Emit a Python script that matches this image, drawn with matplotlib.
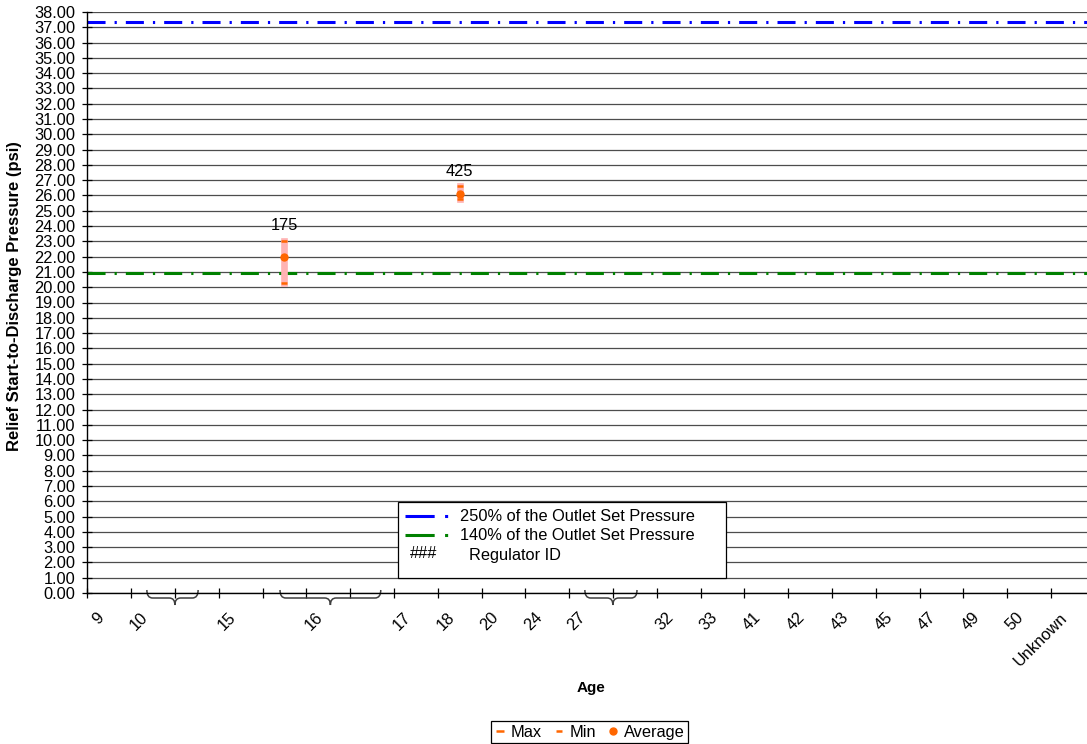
import matplotlib
matplotlib.use("Agg")
import matplotlib.pyplot as plt
import matplotlib.transforms as mtransforms
from matplotlib.lines import Line2D
from matplotlib.path import Path
from matplotlib.patches import PathPatch, Rectangle
from matplotlib.legend_handler import HandlerBase
from matplotlib.text import Text
import numpy as np

plt.rcParams['font.family'] = ['Liberation Sans', 'DejaVu Sans']
plt.rcParams['lines.scale_dashes'] = False

# category axis (one slot per age)
ages = ["9", "10", "", "15", "", "16", "", "17", "18", "20", "24", "27", "",
        "32", "33", "41", "42", "43", "45", "47", "49", "50", "Unknown"]

# regulators tested
reg_ids = ["175", "425"]
reg_slot = [4, 8]
max_psi = [23.05, 26.60]
min_psi = [20.25, 25.75]
avg_psi = [22.00, 26.07]

pct_250 = 37.33
pct_140 = 20.90

# braces under the axis: (start, end, point) in category slots
braces = [(1.36, 2.53, 2.0), (4.40, 6.70, 5.55), (11.36, 12.55, 12.0)]

FS = 11.8
W, H = 1087, 744
fig = plt.figure(figsize=(W / 100, H / 100), dpi=100)
x0, x1, ytop, ybot = 87.3, 1094.7, 12, 593
ax = fig.add_axes([x0 / W, (H - ybot) / H, (x1 - x0) / W, (ybot - ytop) / H])

n = len(ages)
ax.set_xlim(0, n)
ax.set_ylim(0, 38)

# grid
ax.set_yticks(np.arange(0, 39, 1))
ax.set_yticklabels(["%.2f" % v for v in np.arange(0, 39, 1)], fontsize=FS)
ax.yaxis.grid(True, color='#4d4d4d', lw=0.9)
ax.set_axisbelow(True)

for s in ['top', 'right']:
    ax.spines[s].set_visible(False)
ax.spines['left'].set_linewidth(1.0)
ax.spines['bottom'].set_linewidth(1.0)

ax.set_xticks(np.arange(0, n + 1))
ax.set_xticklabels([])
ax.set_xticks(np.arange(n) + 0.5, minor=True)
ax.set_xticklabels(ages, minor=True, rotation=45, ha='right', va='top',
                   rotation_mode='anchor', fontsize=FS)
ax.tick_params(axis='x', which='major', direction='inout', length=7.2, width=0.9)
ax.tick_params(axis='x', which='minor', length=0, pad=12)
ax.tick_params(axis='y', direction='inout', length=7.2, width=0.9, pad=5)
shift = mtransforms.ScaledTranslation(-13 / 100, 0, fig.dpi_scale_trans)
for lab in ax.get_xticklabels(minor=True):
    lab.set_transform(lab.get_transform() + shift)

# reference lines
dash = (0, (13, 6.5, 1.6, 6.5))
ax.axhline(pct_250, color='#0000ff', lw=2.2, ls=dash, zorder=2)
ax.axhline(pct_140, color='#008000', lw=2.2, ls=dash, zorder=2)

# hi-low bars
xs = np.array(reg_slot) + 0.5
bars = ax.vlines(xs, min_psi, max_psi, color='#ffb3b3', lw=4.8, zorder=3)
bars.set_capstyle('projecting')
ax.plot(xs, max_psi, ls='none', marker='_', color='#ff6600', ms=4.8, mew=1.8, zorder=4)
ax.plot(xs, min_psi, ls='none', marker='_', color='#ff6600', ms=3.8, mew=1.8, zorder=4)
ax.plot(xs, avg_psi, ls='none', marker='o', color='#ff6600', ms=5, zorder=5)
for x, y, t in zip(xs, max_psi, reg_ids):
    ax.annotate(t, (x, y), xytext=(0, 10.8), textcoords='offset points',
                ha='center', va='center', fontsize=FS)

# braces
trans = mtransforms.blended_transform_factory(ax.transData, ax.transAxes)
top, bot, tip, r = 3 / 581, -5 / 581, -12 / 581, 0.13
for a, b, c in braces:
    verts = [(a, top), (a, bot), (a + r, bot), (c - r, bot), (c, bot), (c, tip),
             (c, bot), (c + r, bot), (b - r, bot), (b, bot), (b, top)]
    codes = [Path.MOVETO, Path.CURVE3, Path.CURVE3, Path.LINETO, Path.CURVE3, Path.CURVE3,
             Path.CURVE3, Path.CURVE3, Path.LINETO, Path.CURVE3, Path.CURVE3]
    ax.add_patch(PathPatch(Path(verts, codes), transform=trans, fill=False,
                           edgecolor='#3f3f3f', lw=1.1, clip_on=False))

fig.text(15 / W, 1 - 296 / H, 'Relief Start-to-Discharge Pressure (psi)',
         fontsize=12, fontweight='bold', rotation=90, ha='center', va='center')
fig.text(591 / W, 1 - 688 / H, 'Age', fontsize=11, fontweight='bold',
         ha='center', va='center')


class TextHandler(HandlerBase):
    def create_artists(self, legend, orig_handle, xdescent, ydescent, width, height,
                       fontsize, trans):
        t = Text(xdescent + 3, ydescent + height / 2, "###", fontsize=fontsize,
                 va='center', ha='left', transform=trans)
        return [t]


class Marker:
    pass


# legend box drawn as a plain rectangle in figure pixels
fig.patches.append(Rectangle((398 / W, 1 - 578 / H), 328 / W, 76 / H,
                             transform=fig.transFigure, facecolor='white',
                             edgecolor='black', lw=0.9, zorder=5))

h1 = Line2D([], [], color='#0000ff', lw=2.2, ls=(0, (21, 7.5, 2.2, 9)))
h2 = Line2D([], [], color='#008000', lw=2.2, ls=(0, (21, 7.5, 2.2, 9)))
h3 = Marker()
leg = fig.legend([h1, h2, h3],
                 ['250% of the Outlet Set Pressure', '140% of the Outlet Set Pressure',
                  '  Regulator ID'],
                 handler_map={Marker: TextHandler()},
                 loc='upper left', bbox_to_anchor=(398 / W, 1 - 502 / H),
                 fontsize=FS, frameon=False, handlelength=2.85, handletextpad=0.5,
                 labelspacing=0.25, borderpad=0.45, borderaxespad=0)
leg.set_zorder(6)

m1 = Line2D([], [], ls='none', marker='_', color='#ff6600', ms=6, mew=1.8)
m2 = Line2D([], [], ls='none', marker='_', color='#ff6600', ms=5, mew=1.8)
m3 = Line2D([], [], ls='none', marker='o', color='#ff6600', ms=5)
leg2 = fig.legend([m1, m2, m3], ['Max', 'Min', 'Average'], ncol=3,
                  loc='lower center', bbox_to_anchor=(589.5 / W, 1 / H),
                  fontsize=FS, frameon=True, fancybox=False, edgecolor='black',
                  framealpha=1, handlelength=0.7, handletextpad=0.3,
                  columnspacing=0.7, borderpad=0.2, borderaxespad=0)
leg2.get_frame().set_linewidth(0.9)

fig.savefig('out.png', dpi=100)
